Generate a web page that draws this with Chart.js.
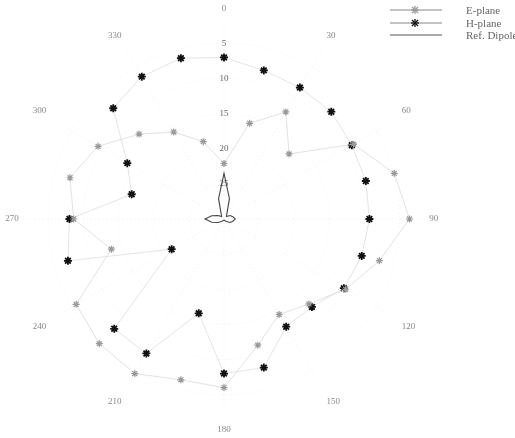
<!DOCTYPE html>
<html>
<head>
<meta charset="utf-8">
<script src="https://cdn.jsdelivr.net/npm/chart.js@4/dist/chart.umd.min.js"></script>
<style>
  body { margin: 0; background: #fff; }
  #wrap { position: relative; width: 515px; height: 438px; }
  #legend {
    position: absolute; left: 388px; top: 4px;
    font: 11px "Liberation Serif", serif; color: #666;
  }
  .row { display: flex; align-items: center; height: 12.5px; white-space: nowrap; }
  .row svg { margin-right: 22px; }
</style>
</head>
<body>
<div id="wrap">
  <canvas id="pattern" width="515" height="438"></canvas>
  <div id="legend"></div>
</div>
<script>
// Angles every 15 degrees, clockwise from the top
const angles = ['0','','30','','60','','90','','120','','150','','180','','210','','240','','270','','300','','330',''];
// Level below peak in dB (center of the plot is -30 dB)
const ePlane = [22.1, 15.9, 12.4, 16.9, 8.7, 4.9, 3.6, 7.1, 10.0, 12.9, 14.3, 11.4,
                6.0, 6.3, 4.6, 4.9, 5.7, 13.4, 8.6, 7.3, 9.3, 12.9, 15.7, 18.6];
const hPlane = [7.0, 8.1, 8.4, 8.4, 9.0, 9.1, 9.3, 9.7, 10.3, 12.3, 12.3, 8.1,
                8.0, 16.1, 7.9, 7.9, 21.4, 7.0, 8.0, 16.4, 14.1, 7.7, 6.6, 6.3];
const refDipole = [23.5, 27.0, 29.2, 29.5, 29.0, 28.7, 28.4, 28.7, 29.0, 29.5, 29.7, 29.8,
                   29.8, 29.8, 29.7, 29.5, 29.0, 28.2, 27.3, 28.2, 29.0, 29.5, 29.2, 27.0];
const radialTicks = [2, 5, 10, 15, 20, 25];
const seriesNames = ['E-plane', 'H-plane', 'Ref. Dipole'];

const font = '"Liberation Serif", serif';

const datasets = [
  { label: seriesNames[0], data: ePlane, borderColor: '#dadada', borderWidth: 0.8,
    pointStyle: 'star', pointRadius: 3.5, pointBorderColor: '#999', pointBorderWidth: 1.2 },
  { label: seriesNames[1], data: hPlane, borderColor: '#dddddd', borderWidth: 0.8,
    pointStyle: 'star', pointRadius: 4, pointBorderColor: '#111', pointBorderWidth: 1.8 },
  { label: seriesNames[2], data: refDipole, borderColor: '#444', borderWidth: 1.1,
    pointRadius: 0 }
];
datasets.forEach(d => { d.fill = false; d.tension = 0; d.backgroundColor = 'transparent'; });

new Chart(document.getElementById('pattern'), {
  type: 'radar',
  data: { labels: angles, datasets: datasets },
  options: {
    responsive: false,
    animation: false,
    layout: { padding: { top: 3, bottom: 2, right: 71 } },
    plugins: { legend: { display: false }, tooltip: { enabled: false } },
    scales: {
      r: {
        reverse: true,
        min: 2,
        max: 30,
        afterBuildTicks: axis => { axis.ticks = radialTicks.map(v => ({ value: v })); },
        ticks: {
          display: true,
          showLabelBackdrop: false,
          color: '#666',
          font: { family: font, size: 9 },
          callback: v => (v === radialTicks[0] ? '' : String(v))
        },
        grid: { circular: true, color: '#efefef', lineWidth: 1 },
        border: { dash: [1, 3] },
        angleLines: {
          color: ctx => (ctx.index % 2 === 0 ? '#efefef' : 'transparent'),
          borderDash: [1, 3]
        },
        pointLabels: { color: '#888', font: { family: font, size: 9 }, padding: 2 }
      }
    }
  }
});

// Legend: line sample with the series marker, then its name
const legend = document.getElementById('legend');
const samples = [
  { line: '#888', marker: '#999' },
  { line: '#888', marker: '#111' },
  { line: '#555', marker: null }
];
seriesNames.forEach((name, i) => {
  const s = samples[i];
  const star = s.marker
    ? `<g stroke="${s.marker}" stroke-width="1.3">
         <line x1="23" y1="6" x2="31" y2="6"/><line x1="27" y1="2" x2="27" y2="10"/>
         <line x1="24" y1="3" x2="30" y2="9"/><line x1="24" y1="9" x2="30" y2="3"/></g>`
    : '';
  const row = document.createElement('div');
  row.className = 'row';
  row.innerHTML = `<svg width="56" height="12"><line x1="2" y1="6" x2="54" y2="6" stroke="${s.line}" stroke-width="1"/>${star}</svg>${name}`;
  legend.appendChild(row);
});
</script>
</body>
</html>
